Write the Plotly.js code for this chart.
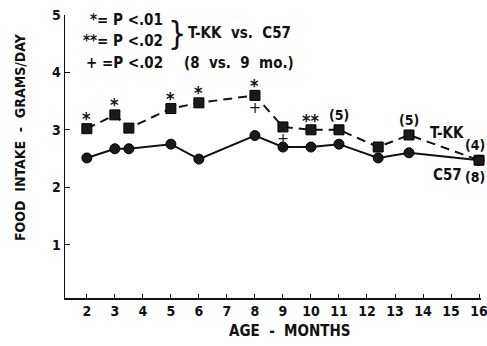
<!DOCTYPE html>
<html><head><meta charset="utf-8">
<script src="https://cdn.plot.ly/plotly-3.0.1.min.js"></script>
<style>html,body{margin:0;padding:0;background:#fff}#c{width:487px;height:346px}</style>
</head><body><div id="c"></div>
<script>
const months = [2, 3, 3.5, 5, 6, 8, 9, 10, 11, 12.4, 13.5, 16];
const tkk = [3.02, 3.26, 3.03, 3.37, 3.47, 3.6, 3.05, 3.0, 3.0, 2.7, 2.91, 2.47];
const c57 = [2.51, 2.67, 2.67, 2.75, 2.49, 2.9, 2.7, 2.7, 2.75, 2.51, 2.6, 2.47];
const xTicks = [2,3,4,5,6,7,8,9,10,11,12,13,14,15,16];
const yTicks = [1,2,3,4,5];
const star1Months = [2, 3, 5, 6, 8];
const star2Months = [10];
const plusMonths = [8, 9];
const nLabels = [{m: 11, t: '(5)'}, {m: 13.5, t: '(5)'}];

const FONT = '"Liberation Sans Narrow", "DejaVu Sans Condensed", Arial, sans-serif';
const L = 65, R = 481, T = 15, B = 298;
function P(px, py) { return {x: (px - L) / (R - L), y: (B - py) / (B - T), xref: 'paper', yref: 'paper'}; }
function txt(px, py, text, size, xanchor) {
  return Object.assign(P(px, py), {text: text, showarrow: false, xanchor: xanchor || 'center', yanchor: 'middle',
    font: {family: FONT, size: size || 14, color: '#111', weight: 'bold'}});
}
function valAt(arr, m) { return arr[months.indexOf(m)]; }

const ann = [];
star1Months.forEach(m => ann.push({x: m, y: valAt(tkk, m), yshift: 10, text: '*', showarrow: false, yanchor: 'middle',
  font: {family: FONT, size: 18, color: '#111', weight: 'bold'}}));
star2Months.forEach(m => ann.push({x: m, y: valAt(tkk, m), yshift: 9, text: '**', showarrow: false, yanchor: 'middle',
  font: {family: FONT, size: 18, color: '#111', weight: 'bold'}}));
plusMonths.forEach(m => ann.push({x: m, y: valAt(tkk, m), yshift: -12, text: '+', showarrow: false, yanchor: 'middle',
  font: {family: FONT, size: 16, color: '#111'}}));
nLabels.forEach(o => ann.push({x: o.m, y: valAt(tkk, o.m), yshift: 15, text: o.t, showarrow: false, yanchor: 'middle',
  font: {family: FONT, size: 14, color: '#111', weight: 'bold'}}));
ann.push({x: 16, y: valAt(tkk, 16), yshift: 15, xshift: 8, text: '(4)', showarrow: false, yanchor: 'middle', xanchor: 'right',
  font: {family: FONT, size: 14, color: '#111', weight: 'bold'}});
ann.push({x: 16, y: valAt(c57, 16), yshift: -17, xshift: 8, text: '(8)', showarrow: false, yanchor: 'middle', xanchor: 'right',
  font: {family: FONT, size: 14, color: '#111', weight: 'bold'}});
ann.push(txt(447, 133, 'T-KK', 15));
ann.push(txt(447, 175, 'C57', 15));
// legend block
ann.push(txt(165, 20, '*= P <.01', 15, 'right'));
ann.push(txt(165, 41, '**= P <.02', 15, 'right'));
ann.push(txt(165, 63, '+ =P <.02', 15, 'right'));
ann.push(Object.assign(txt(177, 33, '}', 30), {font: {family: FONT, size: 32, color: '#111'}}));
ann.push(txt(186, 33, 'T-KK  vs.  C57', 15, 'left'));
ann.push(txt(182, 63, '(8  vs.  9  mo.)', 15, 'left'));
// axis titles
ann.push(txt(290, 331, 'AGE  -  MONTHS', 15));
ann.push(Object.assign(txt(20, 137, 'FOOD  INTAKE  -  GRAMS/DAY', 14), {textangle: -90}));

const traces = [
  {x: months, y: tkk, type: 'scatter', mode: 'lines+markers', name: 'T-KK', cliponaxis: false,
   line: {color: '#111', width: 2, dash: '9px,6px'},
   marker: {symbol: 'square', size: 10, color: '#1a1a1a', line: {color: '#000', width: 1}}},
  {x: months, y: c57, type: 'scatter', mode: 'lines+markers', name: 'C57', cliponaxis: false,
   line: {color: '#111', width: 2},
   marker: {symbol: 'circle', size: 10, color: '#1a1a1a', line: {color: '#000', width: 1}}}
];

const layout = {
  width: 487, height: 346,
  margin: {l: L, r: 487 - R, t: T, b: 346 - B},
  paper_bgcolor: '#fff', plot_bgcolor: '#fff',
  showlegend: false,
  xaxis: {range: [1.22, 16.07], tickvals: xTicks, ticktext: xTicks.map(String), ticks: 'inside', ticklen: 4,
    tickcolor: '#111', showline: true, linecolor: '#111', linewidth: 1.5, showgrid: false, zeroline: false,
    ticklabeloverflow: 'allow',
    tickfont: {family: FONT, size: 14, color: '#111', weight: 'bold'}, mirror: false},
  yaxis: {range: [0.07, 5], tickvals: yTicks, ticktext: yTicks.map(String), ticks: 'inside', ticklen: 5,
    tickcolor: '#111', showline: true, linecolor: '#111', linewidth: 1.5, showgrid: false, zeroline: false,
    ticklabeloverflow: 'allow',
    tickfont: {family: FONT, size: 14, color: '#111', weight: 'bold'}},
  annotations: ann
};
Plotly.newPlot('c', traces, layout, {staticPlot: true, displayModeBar: false});
</script></body></html>
